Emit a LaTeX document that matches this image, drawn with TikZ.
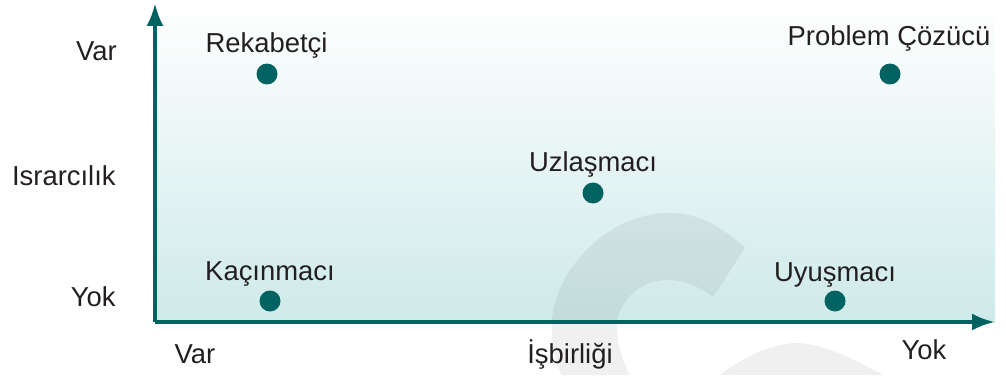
\documentclass[tikz,border=0pt]{standalone}
\usepackage{fontspec}
\setmainfont{Liberation Sans}
\usepackage{tikz}
\usetikzlibrary{arrows.meta}

\definecolor{TealDark}{RGB}{0,99,98}
\definecolor{TealPale}{RGB}{206,234,233}
\definecolor{TextGray}{RGB}{35,31,32}

\begin{document}
\begin{tikzpicture}[
  dot/.style={circle, fill=TealDark, inner sep=0pt, minimum size=0.42cm},
  txt/.style={anchor=base, text=TextGray, inner sep=0pt,
    font=\fontsize{15.6}{18}\selectfont},
  axis/.style={draw=TealDark, line width=2.3pt,
    -{Latex[length=4.6mm,width=3.4mm]}}]
  \useasboundingbox (-3.1,-1.06) rectangle (17.02,6.44);

  % background and watermark
  \shade[top color=white, bottom color=TealPale] (0,0) rectangle (16.8,6.44);
  \fill[black, opacity=0.06]
    (11.8,1.48) .. controls (11.3,1.95) and (10.8,2.2) .. (10.24,2.18)
    .. controls (9.0,2.15) and (8.0,1.0) .. (7.94,0.04)
    .. controls (7.92,-0.4) and (7.98,-0.8) .. (8.14,-1.06)
    -- (9.5,-1.06)
    .. controls (9.3,-0.7) and (9.22,-0.3) .. (9.24,0.04)
    .. controls (9.35,0.5) and (9.75,0.86) .. (10.3,0.84)
    .. controls (10.6,0.83) and (10.9,0.7) .. (11.16,0.5) -- cycle;
  \fill[black, opacity=0.06]
    (11.3,-1.06) .. controls (11.9,-0.6) and (12.6,-0.34) .. (13.04,-0.44)
    .. controls (13.5,-0.5) and (14.1,-0.8) .. (14.56,-1.06) -- cycle;

  % axes
  \coordinate (O) at (0,0);
  \coordinate (ytip) at (0,6.38);
  \coordinate (xtip) at (16.8,0);
  \draw[axis] (O) -- (ytip);
  \draw[axis] (O) -- (xtip);

  % styles
  \node[dot] (rek) at (2.24,4.96) {};
  \node[dot] (pro) at (14.7,4.96) {};
  \node[dot] (uzl) at (8.76,2.58) {};
  \node[dot] (kac) at (2.3,0.42) {};
  \node[dot] (uyu) at (13.6,0.42) {};

  \node[txt] (rekT) at (2.23,5.38) {Rekabetçi};
  \node[txt] (proT) at (14.68,5.54) {Problem Çözücü};
  \node[txt] (uzlT) at (8.76,3.02) {Uzlaşmacı};
  \node[txt] (kacT) at (2.3,0.84) {Kaçınmacı};
  \node[txt] (uyuT) at (13.6,0.82) {Uyuşmacı};

  % axis labels
  \node[txt, anchor=base east] (yVar) at (-0.76,5.24) {Var};
  \node[txt, anchor=base east] (yName) at (-0.78,2.74) {Israrcılık};
  \node[txt, anchor=base east] (yYok) at (-0.78,0.32) {Yok};
  \node[txt] (xVar) at (0.8,-0.82) {Var};
  \node[txt] (xName) at (8.3,-0.82) {İşbirliği};
  \node[txt] (xYok) at (15.38,-0.74) {Yok};
\end{tikzpicture}
\end{document}
